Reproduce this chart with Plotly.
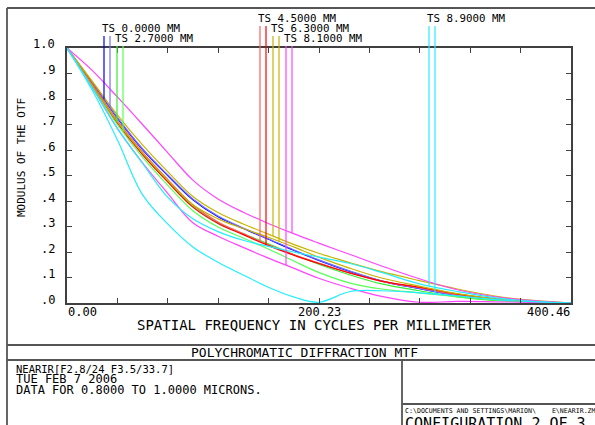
import plotly.graph_objects as go
import numpy as np

W, H = 595, 425
FONT = "DejaVu Sans Mono"

# ---------------- data ----------------
freq = [0, 20, 40, 60, 80, 100, 120, 140, 160, 180, 200, 225, 250, 280, 310, 350, 400.46]

mtf_blue_t = [1.0, 0.865, 0.725, 0.602, 0.500, 0.405, 0.338, 0.292, 0.250, 0.207, 0.167, 0.123, 0.086, 0.056, 0.029, 0.010, 0.0]
mtf_blue_s = [1.0, 0.867, 0.728, 0.605, 0.503, 0.408, 0.341, 0.294, 0.252, 0.209, 0.169, 0.125, 0.087, 0.057, 0.030, 0.010, 0.0]
mtf_green_t = [1.0, 0.855, 0.708, 0.585, 0.478, 0.380, 0.315, 0.272, 0.232, 0.190, 0.152, 0.110, 0.075, 0.048, 0.024, 0.007, 0.0]
mtf_green_s = [1.0, 0.850, 0.700, 0.572, 0.462, 0.362, 0.298, 0.255, 0.212, 0.165, 0.120, 0.078, 0.055, 0.040, 0.025, 0.008, 0.0]
mtf_red_t = [1.0, 0.860, 0.715, 0.592, 0.485, 0.385, 0.318, 0.272, 0.228, 0.190, 0.157, 0.118, 0.085, 0.060, 0.033, 0.011, 0.0]
mtf_red_s = [1.0, 0.856, 0.707, 0.582, 0.475, 0.376, 0.312, 0.268, 0.225, 0.188, 0.155, 0.117, 0.086, 0.062, 0.035, 0.012, 0.0]
mtf_yellow_t = [1.0, 0.870, 0.738, 0.620, 0.515, 0.418, 0.355, 0.310, 0.270, 0.230, 0.195, 0.158, 0.123, 0.088, 0.055, 0.020, 0.0]
mtf_yellow_s = [1.0, 0.855, 0.710, 0.588, 0.482, 0.385, 0.330, 0.292, 0.258, 0.220, 0.180, 0.136, 0.098, 0.066, 0.037, 0.012, 0.0]
mtf_magenta_t = [1.0, 0.845, 0.685, 0.550, 0.430, 0.315, 0.262, 0.218, 0.176, 0.137, 0.097, 0.058, 0.026, 0.003, 0.006, 0.004, 0.0]
mtf_magenta_s = [1.0, 0.912, 0.808, 0.700, 0.590, 0.482, 0.408, 0.356, 0.312, 0.272, 0.235, 0.190, 0.145, 0.095, 0.052, 0.018, 0.0]
mtf_cyan_t = [1.0, 0.845, 0.685, 0.548, 0.415, 0.330, 0.280, 0.246, 0.222, 0.200, 0.180, 0.155, 0.120, 0.075, 0.045, 0.015, 0.0]
mtf_cyan_s = [1.0, 0.835, 0.640, 0.425, 0.310, 0.220, 0.160, 0.110, 0.062, 0.024, 0.003, 0.045, 0.048, 0.040, 0.028, 0.010, 0.0]

field_labels = ["TS 0.0000 MM", "TS 2.7000 MM", "TS 4.5000 MM",
                "TS 6.3000 MM", "TS 8.1000 MM", "TS 8.9000 MM"]
curves_t = [mtf_blue_t, mtf_green_t, mtf_red_t, mtf_yellow_t, mtf_magenta_t, mtf_cyan_t]
curves_s = [mtf_blue_s, mtf_green_s, mtf_red_s, mtf_yellow_s, mtf_magenta_s, mtf_cyan_s]

x_max = 400.46
x_ticks = [x_max * i / 10 for i in range(11)]
x_tick_labels = {0: "0.00", 5: "200.23", 10: "400.46"}
y_ticks = [i / 10 for i in range(11)]
y_tick_labels = [".0", ".1", ".2", ".3", ".4", ".5", ".6", ".7", ".8", ".9", "1.0"]

# ---------------- styles / layout geometry ----------------
colors_t = ["#0000ff", "#33ee33", "#ff6060", "#c8b400", "#ff44ff", "#22eeff"]
colors_s = ["#7070ff", "#55ff55", "#ff0000", "#c8b400", "#ff44ff", "#22eeff"]

PL, PR, PT, PB = 67, 571, 48, 303     # plot box in pixels


def px(x):
    return x / W


def py(y):
    return 1 - y / H


px_per_f = (PR - PL) / x_max
m_span = PB - PT

label_pos = [(101, 28.5), (114, 38.5), (257, 18.5), (270, 28.5), (283, 38.5), (426, 18.5)]
line_start_px = [36, 46, 26, 36, 46, 26]

fig = go.Figure()

for ct, cs, colt, cols in zip(curves_t, curves_s, colors_t, colors_s):
    for c, col in ((ct, colt), (cs, cols)):
        fig.add_trace(go.Scatter(x=freq, y=c, mode="lines",
                                 line=dict(color=col, width=1.2, shape="spline", smoothing=1.0),
                                 hoverinfo="skip", showlegend=False))

# legend drop lines on an overlay subplot that reaches above the plot box
y2_top = PB / m_span
for i in range(6):
    lx, ly = label_pos[i]
    ystart = (PB - line_start_px[i]) / m_span
    for off, curve, col in ((3, curves_t[i], colors_t[i]), (9, curves_s[i], colors_s[i])):
        f = (lx + off - PL) / px_per_f
        yend = float(np.interp(f, freq, curve))
        fig.add_trace(go.Scatter(x=[f, f], y=[ystart, yend], mode="lines",
                                 line=dict(color=col, width=1.2),
                                 xaxis="x2", yaxis="y2",
                                 hoverinfo="skip", showlegend=False))

annotations = []
for (lx, ly), txt in zip(label_pos, field_labels):
    annotations.append(dict(x=px(lx - 1), y=py(ly), xref="paper", yref="paper",
                            text=txt, showarrow=False, xanchor="left", yanchor="middle",
                            font=dict(family=FONT, size=10.8, color="black")))

for idx, txt in x_tick_labels.items():
    anchor = "left" if idx == 0 else ("right" if idx == 10 else "center")
    annotations.append(dict(x=x_ticks[idx], y=py(312), xref="x", yref="paper", text=txt,
                            showarrow=False, xanchor=anchor, yanchor="middle",
                            xshift=-1 if idx == 0 else (1 if idx == 10 else 0),
                            font=dict(family=FONT, size=12, color="black")))

for v, txt in zip(y_ticks, y_tick_labels):
    annotations.append(dict(x=px(57), y=v, xref="paper", yref="y", text=txt,
                            showarrow=False, xanchor="right", yanchor="middle", yshift=3.5,
                            font=dict(family=FONT, size=12, color="black")))

annotations += [
    dict(x=px(314), y=py(324.5), xref="paper", yref="paper",
         text="SPATIAL FREQUENCY IN CYCLES PER MILLIMETER", showarrow=False,
         xanchor="center", yanchor="middle", font=dict(family=FONT, size=14, color="black")),
    dict(x=px(21), y=py(158), xref="paper", yref="paper", text="MODULUS OF THE OTF",
         showarrow=False, textangle=-90, xanchor="center", yanchor="middle",
         font=dict(family=FONT, size=11, color="black")),
    dict(x=px(304), y=py(352.5), xref="paper", yref="paper", text="POLYCHROMATIC DIFFRACTION MTF",
         showarrow=False, xanchor="center", yanchor="middle",
         font=dict(family=FONT, size=13, color="black")),
    dict(x=px(14), y=py(368.5), xref="paper", yref="paper", text="NEARIR[F2.8/24 F3.5/33.7]",
         showarrow=False, xanchor="left", yanchor="middle",
         font=dict(family=FONT, size=10.5, color="black")),
    dict(x=px(14), y=py(379), xref="paper", yref="paper", text="TUE FEB 7 2006",
         showarrow=False, xanchor="left", yanchor="middle",
         font=dict(family=FONT, size=12, color="black")),
    dict(x=px(14), y=py(389.5), xref="paper", yref="paper", text="DATA FOR 0.8000 TO 1.0000 MICRONS.",
         showarrow=False, xanchor="left", yanchor="middle",
         font=dict(family=FONT, size=12, color="black")),
    dict(x=px(403), y=py(410.5), xref="paper", yref="paper",
         text="C:\\DOCUMENTS AND SETTINGS\\MARION\\    E\\NEARIR.ZMX",
         showarrow=False, xanchor="left", yanchor="middle",
         font=dict(family=FONT, size=6.6, color="black")),
    dict(x=px(403), y=py(423.5), xref="paper", yref="paper", text="CONFIGURATION 2 OF 3",
         showarrow=False, xanchor="left", yanchor="middle",
         font=dict(family=FONT, size=15, color="black")),
]

frame_col = "#555555"
shapes = []
for (x0, y0, x1, y1) in [(7, 8, 595, 8), (7, 8, 7, 425), (7, 345, 595, 345), (7, 360, 595, 360),
                         (402, 360, 402, 425), (402, 404, 595, 404)]:
    shapes.append(dict(type="line", xref="paper", yref="paper",
                       x0=px(x0), y0=py(y0), x1=px(x1), y1=py(y1),
                       line=dict(color=frame_col, width=1.8)))

axis_common = dict(showgrid=False, zeroline=False, showline=True, linecolor="#404040",
                   linewidth=1.6, ticks="inside", ticklen=5, tickcolor="#404040",
                   tickwidth=1.2, mirror="ticks")

fig.update_layout(
    width=W, height=H, margin=dict(l=0, r=0, t=0, b=0, pad=0),
    paper_bgcolor="white", plot_bgcolor="rgba(0,0,0,0)", showlegend=False,
    xaxis=dict(domain=[px(PL), px(PR)], range=[0, x_max], tickvals=x_ticks,
               showticklabels=False, **axis_common),
    yaxis=dict(domain=[py(PB), py(PT)], range=[0, 1], tickvals=y_ticks,
               showticklabels=False, **axis_common),
    xaxis2=dict(domain=[px(PL), px(PR)], range=[0, x_max], visible=False, anchor="y2"),
    yaxis2=dict(domain=[py(PB), 1], range=[0, y2_top], visible=False, anchor="x2"),
    annotations=annotations, shapes=shapes,
)

fig.write_html("out.html")
